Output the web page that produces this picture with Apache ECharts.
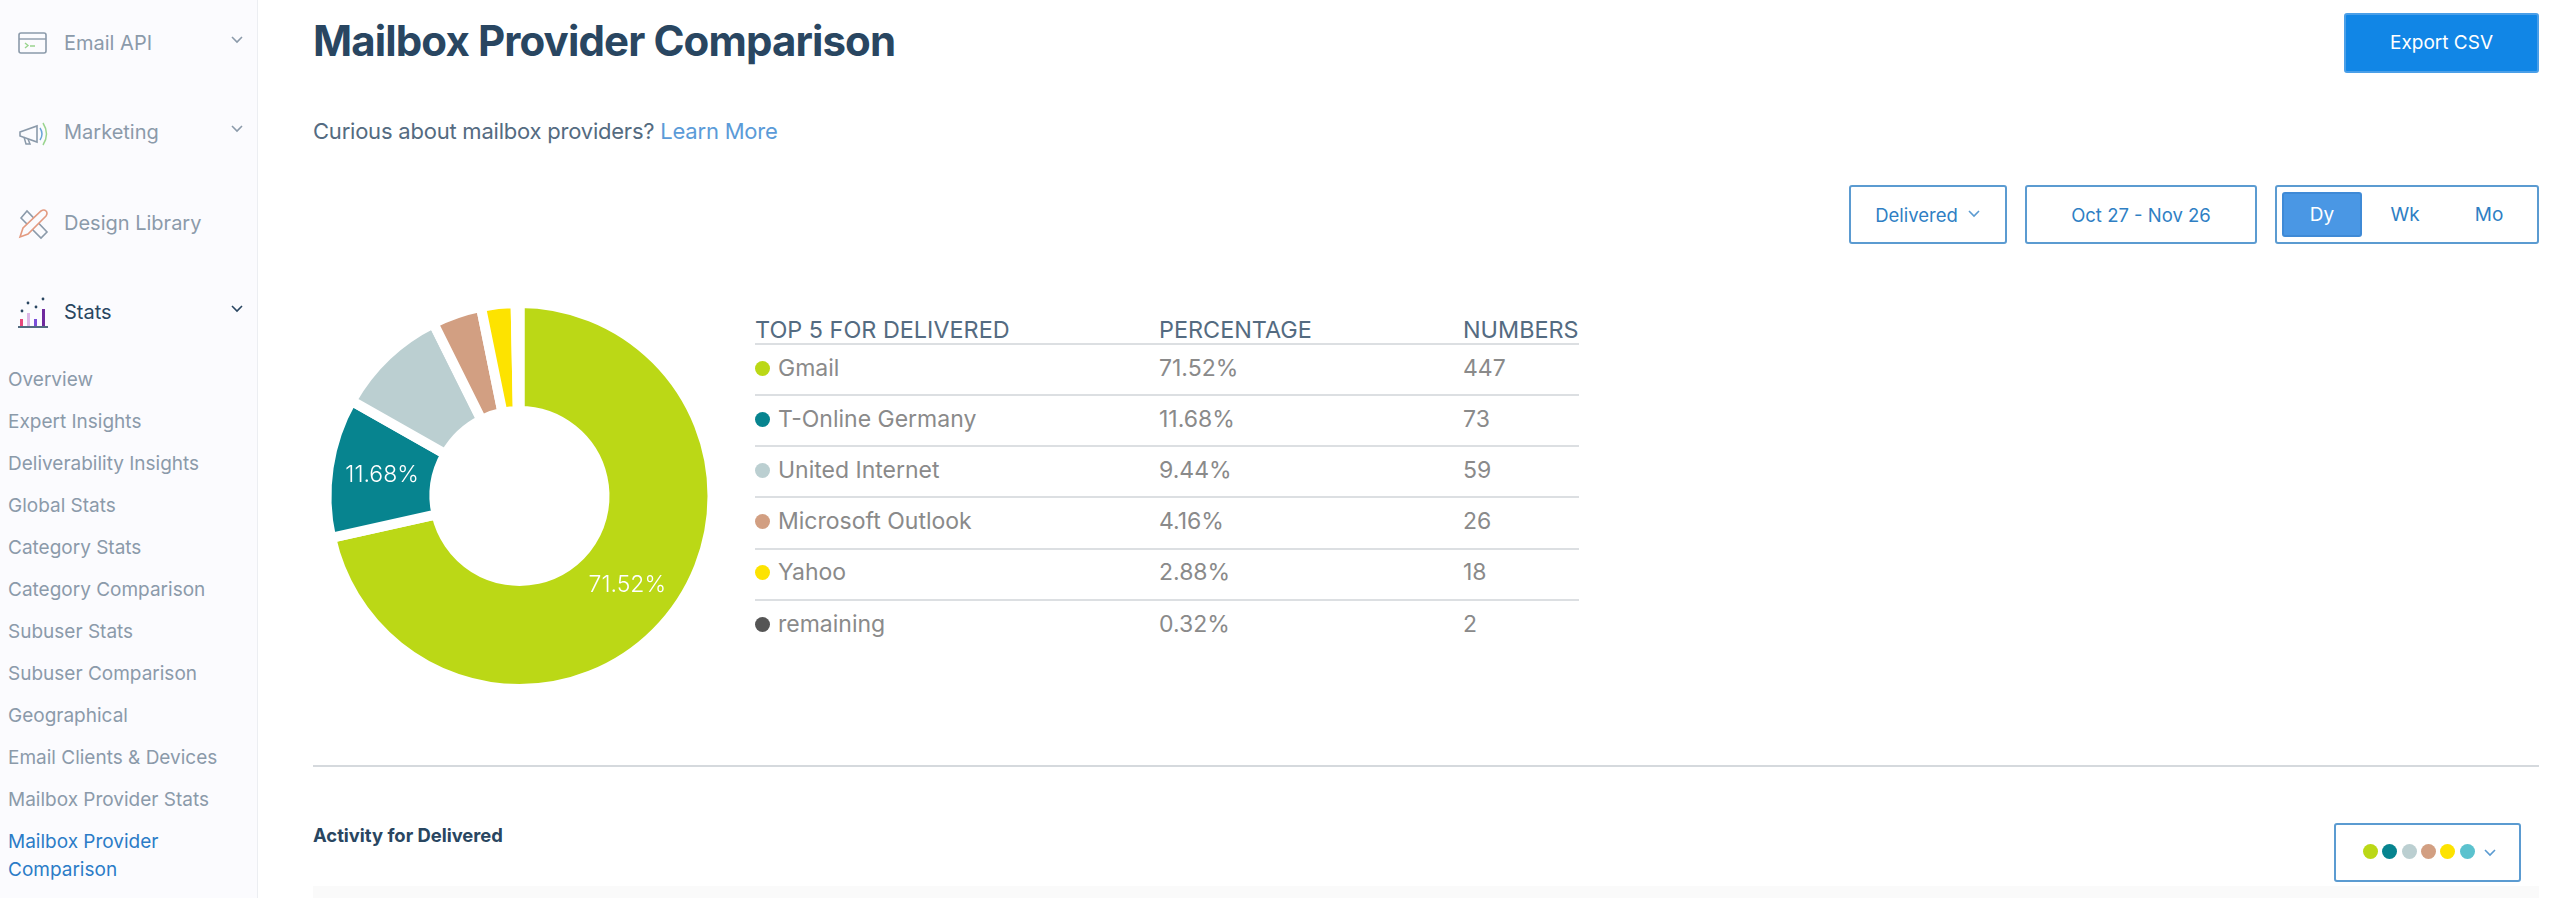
<!DOCTYPE html>
<html>
<head>
<meta charset="utf-8">
<title>Mailbox Provider Comparison</title>
<script src="https://cdn.jsdelivr.net/npm/echarts@6/dist/echarts.min.js"></script>
<style>
  html, body { margin: 0; padding: 0; background: #fff; overflow: hidden; }
  body { width: 2560px; height: 898px; position: relative; font-family: Inter, "Noto Sans", sans-serif; }
  .abs { position: absolute; }
  .abs svg { display: block; }
  .txt { position: absolute; white-space: nowrap; transform: translateY(-50%); line-height: 1.2; }
  .box { position: absolute; box-sizing: border-box; border: 2px solid #5b9bd1; border-radius: 3px; }
  .side { position: absolute; left: 0; top: 0; width: 257px; height: 898px; background: #fbfbfe; border-right: 1px solid #eceef2; }
  .line { position: absolute; height: 2px; background: #dcdfe2; }
  .dot { position: absolute; border-radius: 50%; }
  #donut { position: absolute; left: 300px; top: 280px; width: 440px; height: 420px; }
</style>
</head>
<body>
<div class="side"></div>
<div id="donut"></div>
<script>
const providers = ['Gmail', 'T-Online Germany', 'United Internet', 'Microsoft Outlook', 'Yahoo', 'remaining'];
const percentages = ['71.52%', '11.68%', '9.44%', '4.16%', '2.88%', '0.32%'];
const numbers = [447, 73, 59, 26, 18, 2];
const colors = ['#bbd816', '#07848f', '#bbcfd1', '#d29f82', '#fde300', '#555555'];
const pickerColors = ['#bbd816', '#07848f', '#bbcfd1', '#d29f82', '#fde300', '#5bc2ce'];
const tableHeaders = ['TOP 5 FOR DELIVERED', 'PERCENTAGE', 'NUMBERS'];
const mainNav = ['Email API', 'Marketing', 'Design Library', 'Stats'];
const subNav = ['Overview', 'Expert Insights', 'Deliverability Insights', 'Global Stats', 'Category Stats',
  'Category Comparison', 'Subuser Stats', 'Subuser Comparison', 'Geographical', 'Email Clients & Devices',
  'Mailbox Provider Stats', 'Mailbox Provider', 'Comparison'];

function addText(str, x, y, size, color, weight) {
  const el = document.createElement('div');
  el.className = 'txt';
  el.textContent = str;
  el.style.cssText = `left:${x}px;top:${y}px;font-size:${size}px;color:${color};font-weight:${weight || 400}`;
  document.body.appendChild(el);
  return el;
}
function addBox(x, y, w, h, extra) {
  const el = document.createElement('div');
  el.className = 'box';
  el.style.cssText = `left:${x}px;top:${y}px;width:${w}px;height:${h}px;${extra || ''}`;
  document.body.appendChild(el);
  return el;
}
function addSvg(x, y, w, h, inner) {
  const el = document.createElement('div');
  el.className = 'abs';
  el.style.cssText = `left:${x}px;top:${y}px;width:${w}px;height:${h}px`;
  el.innerHTML = `<svg width="${w}" height="${h}" viewBox="0 0 ${w} ${h}" fill="none">${inner}</svg>`;
  document.body.appendChild(el);
}
function addChevron(x, y, color) {
  addSvg(x, y, 12, 8, `<path d="M1 1 L6 6 L11 1" stroke="${color}" stroke-width="1.6"/>`);
}

// sidebar
const navY = [43, 132, 223, 312];
mainNav.forEach((name, i) => {
  addText(name, 64, navY[i], 20, i === 3 ? '#294661' : '#8b9aaa');
  // Design Library has no submenu
  if (i !== 2) addChevron(231, navY[i] - 7, i === 3 ? '#294661' : '#8b9aaa');
});
addSvg(18, 31, 30, 24, '<rect x="1" y="2" width="27" height="20" rx="2" stroke="#8b9aaa" stroke-width="1.6"/><path d="M1 8 H28" stroke="#8b9aaa" stroke-width="1.4"/><path d="M7 12 L10 14.5 L7 17 M12 15 H17" stroke="#9ad48f" stroke-width="1.4"/>');
addSvg(17, 120, 32, 28, '<path d="M3 12 L20 6 V22 L3 16 Z" stroke="#8b9aaa" stroke-width="1.6"/><path d="M7 17 L9 24 H13 L11 19" stroke="#8b9aaa" stroke-width="1.5"/><path d="M23 8 Q27 14 23 20" stroke="#6aa5d8" stroke-width="1.5"/><path d="M26 3 Q33 14 26 25" stroke="#9ad48f" stroke-width="1.5"/>');
addSvg(17, 208, 32, 32, '<path d="M4 10 L10 3 L30 24 L24 30 Z" stroke="#8b9aaa" stroke-width="1.6"/><path d="M3 29 L6 20 L24 3 Q27 1 29 3 Q31 5 29 8 L11 26 Z" fill="#fbfbfe" stroke="#e39a80" stroke-width="1.6"/>');
addSvg(17, 297, 32, 32, '<g><rect x="3" y="22" width="3" height="7" fill="#e8487c"/><rect x="10" y="16" width="3" height="13" fill="#dcb6e6"/><rect x="17" y="22" width="3" height="7" fill="#7a4fd8"/><rect x="25" y="12" width="3" height="17" fill="#6f2a9e"/><circle cx="5" cy="14" r="1.4" fill="#294661"/><circle cx="11" cy="6" r="1.4" fill="#294661"/><circle cx="19" cy="10" r="1.4" fill="#294661"/><circle cx="26" cy="2" r="1.4" fill="#294661"/><path d="M1 30 H31" stroke="#294661" stroke-width="1.6"/></g>');
const subY = [380, 422, 464, 506, 548, 590, 632, 674, 716, 758, 800, 842, 870];
subNav.forEach((name, i) => addText(name, 8, subY[i], 19, i >= 11 ? '#2b7cc7' : '#8b9aaa'));

// header
const pageTitle = addText('Mailbox Provider Comparison', 313, 41, 42, '#294661', 700);
pageTitle.style.letterSpacing = '-0.88px';
const intro = addText('Curious about mailbox providers? ', 313, 131, 22, '#546b81');
intro.style.letterSpacing = '-0.22px';
const learnMore = document.createElement('span');
learnMore.textContent = 'Learn More';
learnMore.style.color = '#5b9bd8';
intro.appendChild(learnMore);

// buttons
function centeredText(str, x, y, w, h, size, color) {
  const el = addText(str, x, y + h / 2, size, color);
  el.style.width = w + 'px';
  el.style.textAlign = 'center';
  return el;
}
addBox(2344, 13, 195, 60, 'background:#1186e6;border-color:#4a9fe8');
centeredText('Export CSV', 2344, 13, 195, 60, 19, '#fff');
addBox(1849, 185, 158, 59);
centeredText('Delivered', 1849, 185, 135, 59, 18.5, '#2f7fc4');
addChevron(1968, 210, '#5b9bd1');
addBox(2025, 185, 232, 59);
centeredText('Oct 27 - Nov 26', 2025, 185, 232, 59, 18.5, '#2f7fc4');
addBox(2275, 185, 264, 59);
addBox(2282, 192, 80, 45, 'background:#4a97e4;border-color:#3f8ad6');
centeredText('Dy', 2282, 192, 80, 45, 19, '#fff');
centeredText('Wk', 2365, 192, 80, 45, 19, '#2f7fc4');
centeredText('Mo', 2449, 192, 80, 45, 19, '#2f7fc4');

// provider table
const colX = [755, 1159, 1463];
const rowY = [369, 420, 471, 522, 573, 625];
const lineY = [344, 395, 446, 497, 549, 600];
tableHeaders.forEach((h, i) => addText(h, colX[i], 330, 23.4, '#546b81'));
lineY.forEach(y => {
  const l = document.createElement('div');
  l.className = 'line';
  l.style.cssText = `left:755px;top:${y - 1}px;width:824px`;
  document.body.appendChild(l);
});
providers.forEach((name, i) => {
  const d = document.createElement('div');
  d.className = 'dot';
  d.style.cssText = `left:755px;top:${rowY[i] - 8.5}px;width:15px;height:15px;background:${colors[i]}`;
  document.body.appendChild(d);
  addText(name, 778, rowY[i], 23, '#8a8a8a');
  addText(percentages[i], colX[1], rowY[i], 23, '#8a8a8a');
  addText(String(numbers[i]), colX[2], rowY[i], 23, '#8a8a8a');
});

// activity section
const divider = document.createElement('div');
divider.className = 'line';
divider.style.cssText = 'left:313px;top:765px;width:2226px;background:#d5d9dd';
document.body.appendChild(divider);
addText('Activity for Delivered', 313, 835, 18.4, '#294661', 700);
addBox(2334, 823, 187, 59);
const pickerX = [2370, 2389, 2409, 2428, 2447, 2467];
pickerColors.forEach((c, i) => {
  const d = document.createElement('div');
  d.className = 'dot';
  d.style.cssText = `left:${pickerX[i] - 7.5}px;top:843.5px;width:15px;height:15px;background:${c}`;
  document.body.appendChild(d);
});
addChevron(2484, 849, '#5b9bd1');
const band = document.createElement('div');
band.className = 'abs';
band.style.cssText = 'left:313px;top:886px;width:2226px;height:12px;background:#fafafa';
document.body.appendChild(band);

// donut
const donut = echarts.init(document.getElementById('donut'));
donut.setOption({
  animation: false,
  series: [{
    type: 'pie',
    center: [219.5, 216],
    radius: [85, 193],
    startAngle: 90,
    clockwise: true,
    avoidLabelOverlap: false,
    silent: true,
    itemStyle: { borderColor: '#fff', borderWidth: 10 },
    labelLine: { show: false },
    data: providers.map((name, i) => ({
      name: name,
      value: numbers[i],
      itemStyle: { color: colors[i] },
      label: {
        show: numbers[i] > 70,
        position: 'inside',
        offset: [i === 0 ? -3 : 3, 0],
        formatter: percentages[i],
        color: '#fff',
        fontFamily: 'Inter',
        fontSize: 23,
        fontWeight: 300
      }
    }))
  }]
});
</script>
</body>
</html>
